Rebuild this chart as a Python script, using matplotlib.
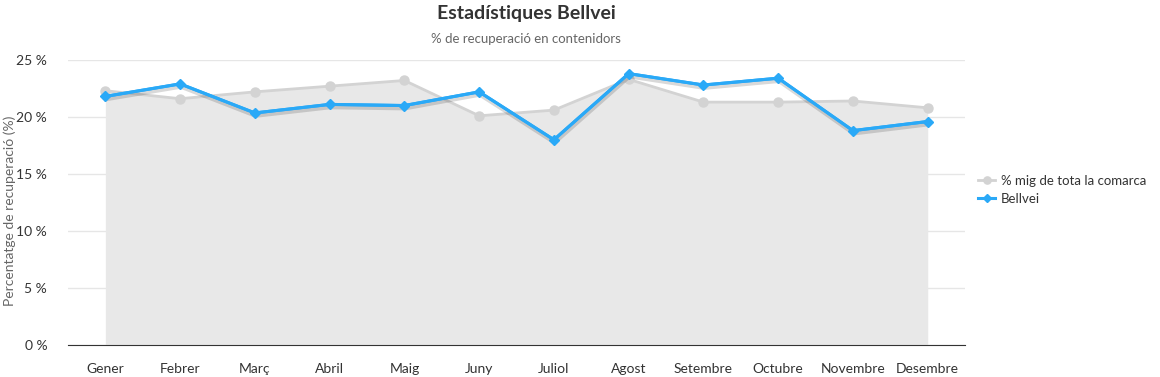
import matplotlib.pyplot as plt
import matplotlib.patheffects as pe

plt.rcParams['font.family'] = ['Lato', 'DejaVu Sans']

mesos = ['Gener', 'Febrer', 'Març', 'Abril', 'Maig', 'Juny', 'Juliol', 'Agost',
         'Setembre', 'Octubre', 'Novembre', 'Desembre']
comarca = [22.3, 21.6, 22.2, 22.7, 23.2, 20.1, 20.6, 23.3, 21.3, 21.3, 21.4, 20.8]
bellvei = [21.8, 22.9, 20.35, 21.1, 21.0, 22.2, 18.0, 23.8, 22.8, 23.4, 18.8, 19.6]
yticks = [0, 5, 10, 15, 20, 25]

fig = plt.figure(figsize=(11.6, 3.77), dpi=100)
ax = fig.add_axes([0.0586, 0.085, 0.7734, 0.756])

x = list(range(len(mesos)))
ax.fill_between(x, comarca, 0, color='#e8e8e8', lw=0, zorder=1)
ax.plot(x, comarca, color='#d3d3d3', lw=2, marker='o', ms=6.5,
        label='% mig de tota la comarca', zorder=2)
# shadow under the blue line only
ax.plot(x, bellvei, color='#2aa9f7', lw=2.2, zorder=3,
        path_effects=[pe.SimpleLineShadow(offset=(0.5, -2), shadow_color='#000000',
                                          alpha=0.15, linewidth=3),
                      pe.Normal()])
ax.plot(x, bellvei, color='#2aa9f7', lw=2.2, marker='D', ms=5,
        label='Bellvei', zorder=4)

ax.set_xlim(-0.5, 11.5)
ax.set_ylim(0, 25)
ax.set_xticks(x)
ax.set_xticklabels(mesos)
ax.set_yticks(yticks)
ax.set_yticklabels([f'{v} %' for v in yticks])
ax.grid(axis='y', color='#e6e6e6', lw=1)
ax.set_axisbelow(True)
for s in ['top', 'right', 'left']:
    ax.spines[s].set_visible(False)
ax.spines['bottom'].set_color('#333333')
ax.tick_params(axis='both', length=0, labelsize=10, colors='#333333')
ax.tick_params(axis='x', pad=13)
ax.tick_params(axis='y', pad=15)

fig.text(10 / 1160, 1 - 211 / 377, 'Percentatge de recuperació (%)', rotation=90,
         ha='center', va='center', color='#666666', fontsize=10)
fig.text(0.4534, 0.965, 'Estadístiques Bellvei', ha='center', va='center',
         fontsize=14, fontweight='bold', color='#333333')
fig.text(0.4534, 0.897, '% de recuperació en contenidors', ha='center', va='center',
         fontsize=9.5, color='#666666')

fig.legend(loc='center left', bbox_to_anchor=(978 / 1160, 1 - 190 / 377), frameon=False,
           fontsize=9.5, handlelength=1.3, handletextpad=0.45, labelspacing=0.45,
           labelcolor='#333333', markerscale=0.8, borderaxespad=0, borderpad=0)

fig.savefig('out.png', dpi=100)
